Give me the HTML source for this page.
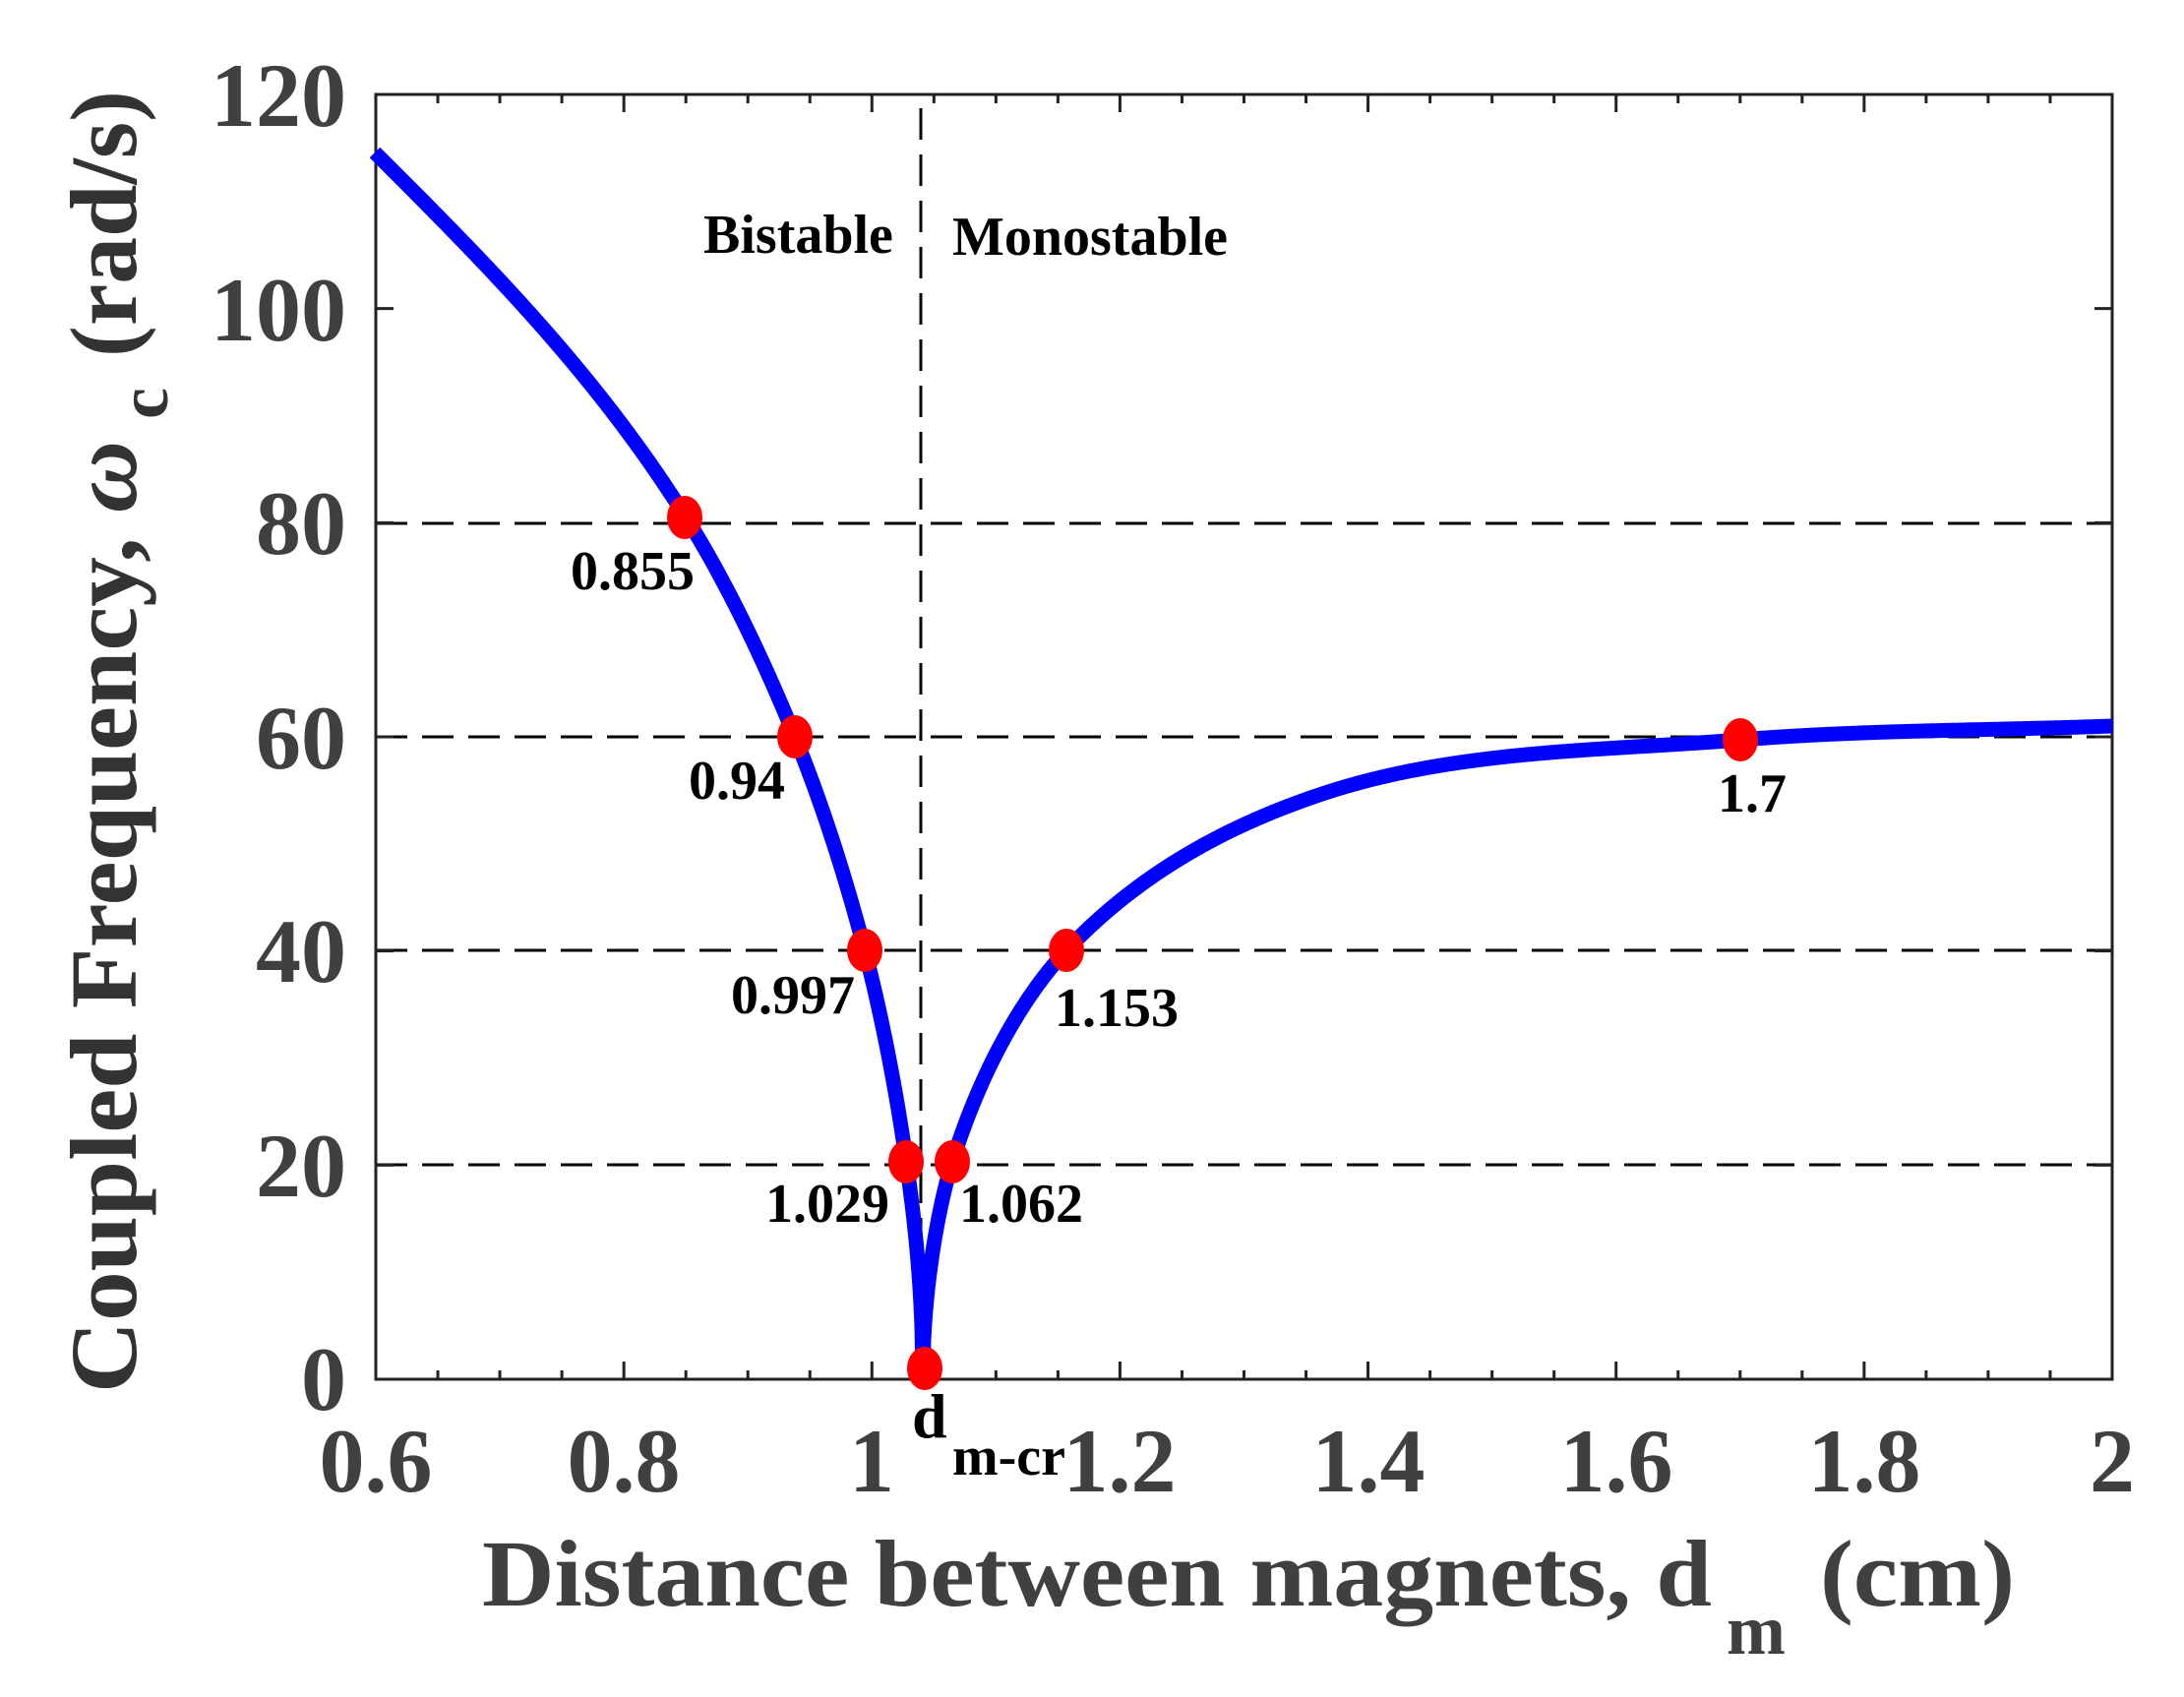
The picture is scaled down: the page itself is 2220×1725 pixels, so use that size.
<!DOCTYPE html>
<html><head><meta charset="utf-8"><style>
html,body{margin:0;padding:0;background:#fff;}
svg{display:block;}
.tk{font-family:"Liberation Serif",serif;font-weight:bold;fill:#404040;font-size:92px;}
.an{font-family:"Liberation Serif",serif;font-weight:bold;fill:#000;font-size:56px;}
</style></head><body>
<svg id="s" width="2220" height="1725" viewBox="0 0 2220 1725" xmlns="http://www.w3.org/2000/svg">
<rect width="2220" height="1725" fill="#fff"/>
<g stroke="#000" stroke-width="3" stroke-dasharray="32 15" fill="none">
<line x1="382" y1="532" x2="2147" y2="532"/>
<line x1="382" y1="749" x2="2147" y2="749"/>
<line x1="382" y1="966" x2="2147" y2="966"/>
<line x1="382" y1="1184" x2="2147" y2="1184"/>
<line x1="936" y1="110" x2="936" y2="1402"/>
</g>
<g id="ticks" stroke="#222" stroke-width="3"></g>
<rect x="382" y="96" width="1765" height="1306" fill="none" stroke="#222" stroke-width="3"/>
<path id="curve" fill="none" stroke="#0000ff" stroke-width="15" stroke-linejoin="round"/>
<g fill="#ff0000">
<ellipse cx="696" cy="526" rx="18" ry="22"/>
<ellipse cx="808" cy="749" rx="18" ry="22"/>
<ellipse cx="879" cy="966" rx="18" ry="22"/>
<ellipse cx="921" cy="1181" rx="18" ry="22"/>
<ellipse cx="968" cy="1181" rx="18" ry="22"/>
<ellipse cx="1084" cy="966" rx="18" ry="22"/>
<ellipse cx="1769" cy="752" rx="18" ry="22"/>
<ellipse cx="940" cy="1391" rx="18" ry="22"/>
</g>
<g class="tk" text-anchor="end">
<text x="352" y="128">120</text>
<text x="352" y="346">100</text>
<text x="352" y="563">80</text>
<text x="352" y="781">60</text>
<text x="352" y="998">40</text>
<text x="352" y="1216">20</text>
<text x="352" y="1433">0</text>
</g>
<g class="tk" text-anchor="middle">
<text x="382" y="1516">0.6</text>
<text x="634" y="1516">0.8</text>
<text x="886" y="1516">1</text>
<text x="1138" y="1516">1.2</text>
<text x="1391" y="1516">1.4</text>
<text x="1643" y="1516">1.6</text>
<text x="1895" y="1516">1.8</text>
<text x="2147" y="1516">2</text>
</g>
<g class="an">
<text x="715" y="257">Bistable</text>
<text x="968" y="259">Monostable</text>
<text x="580" y="599">0.855</text>
<text x="700" y="812">0.94</text>
<text x="743" y="1030">0.997</text>
<text x="778" y="1242">1.029</text>
<text x="975" y="1242">1.062</text>
<text x="1072" y="1043">1.153</text>
<text x="1746" y="825">1.7</text>
<text x="927" y="1461" style="font-size:64px">d</text>
<text x="968" y="1499">m-cr</text>
</g>
<g style="font-family:'Liberation Serif',serif;font-weight:bold;fill:#404040;font-size:96px">
<text x="490" y="1632" textLength="1250" lengthAdjust="spacingAndGlyphs">Distance between magnets, d</text>
<text x="1755" y="1681" style="font-size:72px">m</text>
<text x="1850" y="1632" textLength="198" lengthAdjust="spacingAndGlyphs">(cm)</text>
</g>
<g transform="translate(138,1416) rotate(-90)" style="font-family:'Liberation Serif',serif;font-weight:bold;fill:#333;font-size:96px">
<text x="0" y="0" textLength="968" lengthAdjust="spacingAndGlyphs">Coupled Frequency, <tspan font-style="italic">ω</tspan></text>
<text x="990" y="32" style="font-size:72px">c</text>
<text x="1053" y="0" textLength="271" lengthAdjust="spacingAndGlyphs">(rad/s)</text>
</g>
</svg>
<script>
(function(){
var NS="http://www.w3.org/2000/svg";
var g=document.getElementById('ticks');
function ln(x1,y1,x2,y2){var l=document.createElementNS(NS,'line');l.setAttribute('x1',x1);l.setAttribute('y1',y1);l.setAttribute('x2',x2);l.setAttribute('y2',y2);g.appendChild(l);}
for(var i=1;i<28;i++){var x=382+i*1765/28;var L=(i%4==0)?18:9;ln(x,1402,x,1402-L);ln(x,96,x,96+L);}
for(var j=1;j<6;j++){var y=96+j*1306/6;ln(382,y,400,y);ln(2147,y,2129,y);}
var base=1402;
function mono(pts){var n=pts.length,xs=pts.map(p=>p[0]),ys=pts.map(p=>p[1]),d=[],m=[];
for(var i=0;i<n-1;i++)d.push((ys[i+1]-ys[i])/(xs[i+1]-xs[i]));
m[0]=d[0];m[n-1]=d[n-2];for(i=1;i<n-1;i++){m[i]=(d[i-1]*d[i]<=0)?0:(d[i-1]+d[i])/2;}
for(i=0;i<n-1;i++){if(d[i]==0){m[i]=m[i+1]=0;continue;}var a=m[i]/d[i],b=m[i+1]/d[i],s=a*a+b*b;if(s>9){var t=3/Math.sqrt(s);m[i]=t*a*d[i];m[i+1]=t*b*d[i];}}
return function(x){var k=0;while(k<n-2&&x>xs[k+1])k++;var h=xs[k+1]-xs[k],t=(x-xs[k])/h,t2=t*t,t3=t2*t;
return (2*t3-3*t2+1)*ys[k]+(t3-2*t2+t)*h*m[k]+(-2*t3+3*t2)*ys[k+1]+(t3-t2)*h*m[k+1];};}
function sq(p){return p.map(q=>[q[0],Math.pow(base-q[1],2)]);}
var L=[[381,155],[696,524],[808,749],[879,966],[921,1179],[938,1402]];
var R=[[938,1402],[968,1181],[1084,966],[1344,807],[1769,752],[2147,738]];
var fl=mono(sq(L)),fr=mono(sq(R));var path="";
for(var x=381;x<=938;x+=1){var v=Math.max(0,fl(Math.min(x,938)));path+=(path?"L":"M")+x+","+(base-Math.sqrt(v)).toFixed(1);}
path+="L938,1400";
for(x=938;x<=2147;x+=1){v=Math.max(0,fr(x));path+="L"+x+","+(base-Math.sqrt(v)).toFixed(1);}
document.getElementById('curve').setAttribute('d',path);
})();
</script>
</body></html>
